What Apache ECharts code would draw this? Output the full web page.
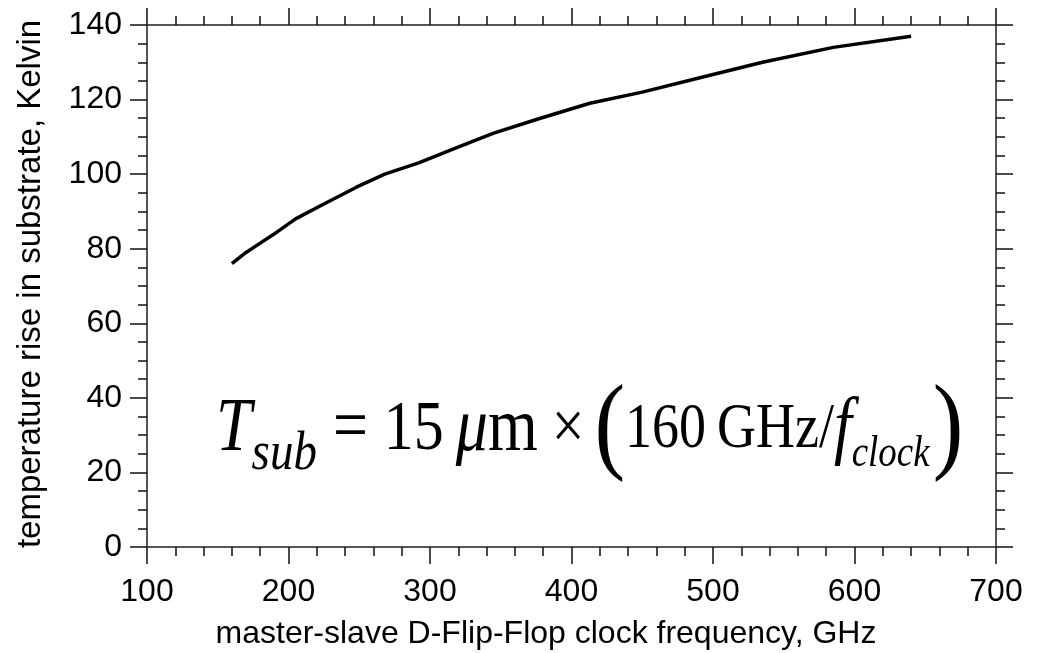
<!DOCTYPE html>
<html>
<head>
<meta charset="utf-8">
<script src="https://cdn.jsdelivr.net/npm/echarts@6/dist/echarts.min.js"></script>
<style>
html,body{margin:0;padding:0;background:#fff;}
#chart{width:1041px;height:653px;}
</style>
</head>
<body>
<div id="chart"></div>
<script>
const freqGHz = [160,170,180,192,205,225,248,268,292,318,345,378,413,450,490,535,585,640];
const tempRiseK = [76,79,81.5,84.5,88,92,96.5,100,103,107,111,115,119,122,125.8,130,134,137];
const xTitle = 'master-slave D-Flip-Flop clock frequency, GHz';
const yTitle = 'temperature rise in substrate, Kelvin';

const chart = echarts.init(document.getElementById('chart'), null, {renderer:'canvas'});
const sans = 'Liberation Sans, Arial, sans-serif';
const serif = 'Liberation Serif, Times New Roman, serif';
const lineCol = '#555';
const tickCol = '#111';

function xAx(pos, showLabel){
  return {
    type:'value', position:pos, min:100, max:700, interval:100,
    axisLine:{show:true, onZero:false, lineStyle:{color:lineCol, width:2}},
    axisTick:{show:true, inside:false, length:17, lineStyle:{color:tickCol, width:1.5}},
    minorTick:{show:true, splitNumber:5, length:9, lineStyle:{color:tickCol, width:1.5}},
    axisLabel:{show:showLabel, fontSize:32, color:'#000', fontFamily:sans, margin:29, showMinLabel:true, showMaxLabel:true},
    splitLine:{show:false}, minorSplitLine:{show:false}
  };
}
function yAx(pos, showLabel){
  return {
    type:'value', position:pos, min:0, max:140, interval:20,
    axisLine:{show:true, onZero:false, lineStyle:{color:lineCol, width:2}},
    axisTick:{show:true, inside:false, length:17, lineStyle:{color:tickCol, width:1.5}},
    minorTick:{show:true, splitNumber:4, length:9, lineStyle:{color:tickCol, width:1.5}},
    axisLabel:{show:showLabel, fontSize:32, color:'#000', fontFamily:sans, margin:25, showMinLabel:true, showMaxLabel:true},
    splitLine:{show:false}, minorSplitLine:{show:false}
  };
}

const option = {
  backgroundColor:'#fff',
  animation:false,
  grid:{left:147, right:45, top:25, bottom:106},
  xAxis:[xAx('bottom', true), xAx('top', false)],
  yAxis:[yAx('left', true), yAx('right', false)],
  series:[{
    type:'line', xAxisIndex:0, yAxisIndex:0,
    data: freqGHz.map((f,i)=>[f, tempRiseK[i]]),
    showSymbol:false, symbol:'none',
    lineStyle:{color:'#000', width:3.5},
    smooth:false
  }],
  graphic:[
    {type:'text', x:546, y:634, style:{text:xTitle, font:'32px '+sans, fill:'#000', align:'center', verticalAlign:'middle'}},
    {type:'text', x:31, y:284, rotation:Math.PI/2, style:{text:yTitle, font:'33px '+sans, fill:'#000', align:'center', verticalAlign:'middle'}},
    {type:'text', x:216, y:430, scaleY:1.18, style:{
      text:'{ti|T}{sub|sub}{eq|=}{n15|15}{mu|μ}{n|m}{op|×}{par|(}{n2|160\u2009GHz/}{ti|f}{sub2|clock}{par2|)}',
      align:'left', verticalAlign:'middle',
      rich:{
        ti:{fontFamily:serif, fontStyle:'italic', fontSize:64, fill:'#000'},
        mu:{fontFamily:serif, fontStyle:'italic', fontSize:64, fill:'#000'},
        n:{fontFamily:serif, fontSize:64, fill:'#000'},
        n15:{fontFamily:serif, fontSize:60, fill:'#000', padding:[0,12,0,0]},
        n2:{fontFamily:serif, fontSize:54, fill:'#000'},
        eq:{fontFamily:serif, fontSize:62, fill:'#000', padding:[0,16,0,16]},
        op:{fontFamily:serif, fontSize:58, fill:'#000', padding:[0,10,0,14]},
        sub:{fontFamily:serif, fontStyle:'italic', fontSize:47, fill:'#000', padding:[42,0,0,0]},
        sub2:{fontFamily:serif, fontStyle:'italic', fontSize:37, fill:'#000', padding:[42,0,0,0]},
        par:{fontFamily:serif, fontSize:92, fill:'#000'},
        par2:{fontFamily:serif, fontSize:92, fill:'#000', padding:[0,0,0,3]}
      }
    }}
  ]
};
chart.setOption(option);
</script>
</body>
</html>
